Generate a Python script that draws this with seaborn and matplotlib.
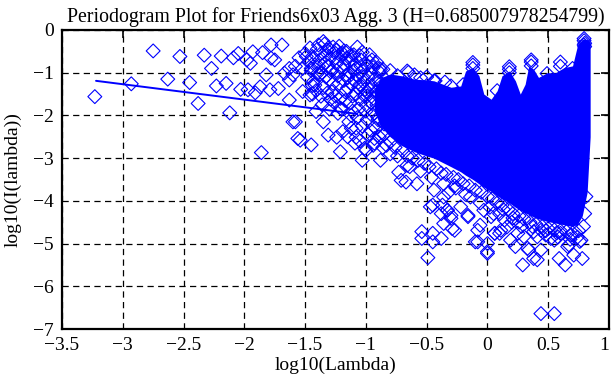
import matplotlib
matplotlib.use("Agg")
import matplotlib.pyplot as plt
import seaborn as sns
import pandas as pd

# ---- data ----
# sparse low-frequency points
low_x = [-3.23, -2.75, -2.93, -2.63, -2.53, -2.45, -2.38, -2.33, -2.27, -2.23, -2.19, -2.15,
         -2.12, -2.09, -2.05, -2.03, -1.98, -1.95, -1.97, -1.91, -1.93, -1.86, -1.85, -1.82,
         -1.78, -1.75, -1.69, -1.79, -1.72, -1.87, -1.63, -1.60, -1.56, -1.78, -1.67, -1.63,
         -1.63, -1.58, -1.54, -1.45, -1.52, -1.46, -1.42, -1.49, -1.45, -1.35, -1.38, -1.32,
         -1.41, -1.35, -1.31, -1.24, -1.21, -1.19, -1.21, -1.12, -1.09, -1.16, -1.08, -0.99,
         -0.95, -0.89, -1.01, -0.93]
low_y = [-1.56, -0.49, -1.26, -1.15, -0.62, -1.23, -1.72, -0.59, -0.90, -1.31, -0.61, -1.25,
         -1.94, -0.65, -0.55, -1.39, -0.70, -0.78, -1.40, -1.47, -0.51, -2.87, -0.53, -1.05,
         -0.35, -0.70, -0.35, -1.40, -1.37, -1.33, -1.64, -2.15, -2.54, -0.66, -1.01, -0.90,
         -1.17, -2.15, -2.58, -2.69, -1.44, -1.52, -1.29, -0.62, -0.90, -0.27, -1.05, -0.47,
         -1.91, -2.15, -2.46, -0.47, -1.83, -2.38, -2.85, -2.30, -2.65, -0.66, -0.90, -1.44,
         -0.70, -0.90, -2.77, -2.54]

# dense band of overlapping diamonds (x between -1.6 and -0.85)
mid_x = [-1.50, -1.47, -1.45, -1.43, -1.40, -1.38, -1.36, -1.35, -1.33, -1.31, -1.30, -1.28,
         -1.27, -1.25, -1.24, -1.22, -1.21, -1.19, -1.18, -1.16, -1.15, -1.13, -1.12, -1.10,
         -1.09, -1.08, -1.06, -1.05, -1.04, -1.02, -1.01, -1.00, -0.99, -0.97, -0.96, -0.95,
         -0.94, -0.93, -0.92, -0.98, -1.03, -1.07, -1.11, -1.14, -1.17, -1.20, -1.23, -1.26,
         -1.29, -1.32, -1.37, -1.41, -1.44, -1.48, -1.52, -1.55, -1.58, -1.60, -1.34, -1.18,
         -1.13, -1.07, -1.03, -0.97, -0.91, -0.88, -0.90, -0.87, -1.24, -1.08, -1.00, -0.94,
         -1.39, -1.29, -1.15, -1.05, -0.99, -0.91, -0.86, -0.89,
         -1.46, -1.44, -1.42, -1.40, -1.39, -1.37, -1.34, -1.33, -1.31, -1.30, -1.28, -1.27,
         -1.26, -1.24, -1.23, -1.22, -1.20, -1.19, -1.18, -1.17, -1.16, -1.14, -1.13, -1.12,
         -1.11, -1.10, -1.09, -1.07, -1.06, -1.05, -1.04, -1.03, -1.02, -1.01, -1.00, -0.99,
         -0.98, -0.97, -0.96, -0.95, -0.94, -0.93, -0.92, -0.91, -0.90, -0.89, -0.88, -0.87,
         -0.86, -0.85, -1.25, -1.30, -1.36, -1.44, -1.12, -1.08, -1.15, -1.05, -0.96, -0.93,
         -0.89, -0.86]
mid_y = [-0.55, -0.75, -0.95, -1.20, -0.45, -0.70, -1.00, -1.35, -0.60, -0.85, -1.15, -1.45,
         -0.40, -0.65, -0.95, -1.25, -1.60, -0.55, -0.80, -1.05, -1.35, -1.70, -0.70, -0.95,
         -1.20, -1.50, -1.85, -0.60, -0.85, -1.10, -1.40, -1.75, -2.10, -0.75, -1.00, -1.30,
         -1.60, -1.95, -2.30, -2.45, -2.25, -2.05, -1.90, -2.15, -1.65, -1.85, -1.95, -1.70,
         -1.62, -1.48, -1.55, -1.42, -1.30, -1.10, -0.90, -0.65, -0.85, -1.05, -0.33, -0.49,
         -0.61, -0.40, -0.52, -0.58, -0.76, -0.92, -2.05, -2.40, -2.51, -2.51, -2.82, -2.70,
         -0.85, -0.98, -1.12, -1.28, -1.55, -1.45, -1.75, -1.20,
         -0.42, -0.62, -0.82, -1.02, -0.35, -0.55, -0.78, -1.10, -0.42, -0.68, -0.95, -1.25,
         -0.52, -0.78, -1.08, -0.38, -0.62, -0.92, -1.18, -1.45, -0.50, -0.75, -1.00, -1.25,
         -1.55, -0.58, -0.82, -1.08, -1.35, -1.62, -0.70, -0.95, -1.22, -1.55, -1.90, -0.82,
         -1.10, -1.40, -1.70, -2.00, -0.88, -1.15, -1.45, -1.75, -2.10, -0.98, -1.25, -1.55,
         -1.85, -2.20, -1.55, -1.85, -1.75, -1.50, -2.00, -2.30, -2.50, -2.60, -2.35, -2.65,
         -2.50, -2.75]

# outlined diamonds around the dense core (upper and lower edges)
edge_x = [-0.66, -0.44, -0.30, -0.12, -0.12, 0.18, 0.08, 0.36, 0.36, 0.60, 0.80, 0.80,
          -0.74, -0.65, -0.43, -0.86, 0.18, 0.60, 0.49, 0.70, -0.55, -0.20,
          -1.03, -0.88, -0.80, -0.73, -0.67, -0.58, -0.45, -0.71, -0.66, -0.47, -0.54, -0.54,
          -0.49, -0.38, -0.38, -0.30, -0.27, -0.33, -0.44, -0.36, -0.22, -0.16, -0.08, -0.08,
          0.00, -0.03, 0.06, 0.14, -0.14, -0.45, -0.45, -0.36, -0.29, -0.30, -0.37, -0.33,
          -0.16, -0.10, -0.06, 0.00, 0.00, 0.06, 0.03, 0.23, 0.29, 0.33, 0.38, 0.44, 0.44,
          0.55, 0.59, 0.64, 0.71, 0.78, 0.66, 0.77, 0.55, 0.41, 0.19, 0.11, 0.25, 0.10,
          0.34, 0.41, 0.52, 0.67, 0.30, 0.16, 0.44, 0.60, -0.27, -0.32, 0.21, 0.48, 0.74,
          0.05, 0.26, 0.57, 0.69, 0.13, 0.37,
          -0.12, 0.18, 0.36, 0.795, 0.795, 0.795, -0.80, -0.60, -0.50, -0.35,
          -0.85, -0.80, -0.76, -0.70, -0.66, -0.62, -0.57, -0.52, -0.48, -0.42, -0.38, -0.34,
          -0.28, -0.24, -0.20, -0.15, -0.10, -0.05, 0.00, 0.04, 0.08, 0.12, 0.17, 0.21,
          0.26, 0.30, 0.35, 0.40, 0.45, 0.50, 0.55, 0.60, 0.65, 0.70, 0.75, 0.79, 0.80, 0.81,
          -0.83, -0.74, -0.64, -0.55, -0.46, -0.36, -0.26, -0.18, -0.06, 0.02, 0.10, 0.20,
          0.28, 0.38, 0.48, 0.58, 0.68, 0.76]
edge_y = [-0.96, -1.19, -1.31, -0.82, -0.90, -0.92, -1.42, -0.75, -0.84, -0.75, -0.31, -0.39,
          -1.07, -0.99, -1.19, -0.92, -1.00, -0.85, -1.02, -0.90, -1.12, -1.28,
          -3.05, -3.05, -2.90, -3.33, -3.56, -3.60, -4.10, -3.52, -3.17, -4.14, -4.72, -4.88,
          -5.33, -4.88, -4.30, -4.41, -4.69, -4.22, -3.75, -3.91, -4.14, -4.37, -4.69, -4.96,
          -5.23, -4.22, -4.76, -4.45, -3.91, -4.76, -4.96, -4.53, -4.65, -4.34, -4.10, -4.22,
          -4.34, -4.96, -4.57, -5.19, -5.00, -4.76, -4.37, -5.07, -5.50, -5.11, -5.35, -5.15,
          -6.64, -6.64, -5.35, -5.50, -5.27, -5.35, -5.07, -4.92, -4.92, -4.84, -4.92, -4.69,
          -4.76, -4.76, -5.15, -5.38, -4.88, -5.03, -4.84, -4.61, -4.69, -4.76, -3.65, -3.80,
          -4.40, -4.70, -4.85, -4.30, -4.50, -4.75, -4.80, -4.20, -4.60,
          -0.76, -0.86, -0.70, -0.25, -0.20, -0.35, -0.95, -1.05, -1.10, -1.22,
          -2.45, -2.62, -2.75, -2.82, -2.95, -3.00, -3.05, -3.12, -3.20, -3.25, -3.35, -3.38,
          -3.45, -3.50, -3.60, -3.65, -3.75, -3.80, -3.90, -3.95, -4.05, -4.10, -4.20, -4.30,
          -4.35, -4.42, -4.50, -4.55, -4.60, -4.65, -4.68, -4.70, -4.72, -4.75, -4.70, -4.60,
          -4.30, -3.90,
          -2.70, -2.95, -3.20, -3.30, -3.45, -3.60, -3.70, -3.85, -4.05, -4.15, -4.30, -4.50,
          -4.60, -4.72, -4.80, -4.85, -4.90, -4.95]

# envelope of the solid (fully overlapped) core
core_x = [-0.93, -0.88, -0.80, -0.71, -0.60, -0.50, -0.44, -0.30, -0.22, -0.18, -0.12, -0.07,
          -0.03, 0.03, 0.08, 0.12, 0.18, 0.23, 0.27, 0.31, 0.34, 0.38, 0.42, 0.49, 0.56,
          0.63, 0.70, 0.74, 0.78, 0.82, 0.845]
core_hi = [-1.40, -1.12, -1.03, -1.07, -1.15, -1.17, -1.19, -1.34, -1.31, -0.96, -0.88, -1.07,
           -1.50, -1.62, -1.42, -1.07, -0.96, -1.19, -1.50, -1.27, -0.84, -0.92, -1.11, -1.00,
           -1.00, -0.88, -0.84, -0.37, -0.22, -0.22, -0.30]
core_lo = [-1.90, -2.25, -2.50, -2.70, -2.85, -2.95, -3.00, -3.20, -3.32, -3.40, -3.50, -3.60,
           -3.68, -3.78, -3.88, -3.95, -4.05, -4.15, -4.22, -4.28, -4.32, -4.38, -4.42, -4.48,
           -4.52, -4.56, -4.60, -4.55, -4.35, -3.80, -2.50]

# least-squares line endpoints
fit_x = [-3.22, -1.07]
fit_y = [-1.19, -1.965]

title = "Periodogram Plot for Friends6x03 Agg. 3 (H=0.685007978254799)"
x_ticks = [-3.5, -3, -2.5, -2, -1.5, -1, -0.5, 0, 0.5, 1]
x_ticklabels = ["\u22123.5", "\u22123", "\u22122.5", "\u22122", "\u22121.5", "\u22121", "\u22120.5", "0", "0.5", "1"]
y_ticks = [0, -1, -2, -3, -4, -5, -6, -7]
y_ticklabels = ["0", "\u22121", "\u22122", "\u22123", "\u22124", "\u22125", "\u22126", "\u22127"]

# ---- drawing ----
sns.set_theme(style="white")
plt.rcParams["font.family"] = ["Liberation Serif", "DejaVu Serif"]
BLUE = "#0000ff"

fig = plt.figure(figsize=(6.11, 3.85), dpi=100)
ax = fig.add_axes([62 / 611, 1 - 329 / 385, 547 / 611, 299 / 385])

ax.fill_between(core_x, core_lo, core_hi, color=BLUE, linewidth=0, zorder=2)

pts = pd.DataFrame({
    "x": low_x + mid_x + edge_x,
    "y": low_y + mid_y + edge_y,
})
sns.scatterplot(data=pts, x="x", y="y", marker="D", s=50,
                facecolor="none", edgecolor=BLUE, linewidth=0.8,
                ax=ax, zorder=3, legend=False)

sns.lineplot(x=fit_x, y=fit_y, color=BLUE, linewidth=1.4, ax=ax, zorder=4)

ax.set_xlim(-3.5, 1)
ax.set_ylim(-7, 0)
ax.set_xticks(x_ticks)
ax.set_xticklabels(x_ticklabels)
ax.set_yticks(y_ticks)
ax.set_yticklabels(y_ticklabels)
ax.get_xticklabels()[-1].set_horizontalalignment("right")
ax.grid(True, color="black", linestyle=(0, (5, 3.5)), linewidth=0.9, zorder=1)
ax.set_axisbelow(True)
for sp in ax.spines.values():
    sp.set_visible(True)
    sp.set_color("black")
    sp.set_linewidth(1.6)
ax.tick_params(axis="both", direction="in", length=6, width=1.2, colors="black",
               top=True, right=True, labelsize=14, pad=6)
ax.set_xlabel("log10(Lambda)", fontsize=14, labelpad=2, color="black")
ax.set_ylabel("log10(I(lambda))", fontsize=14, labelpad=8, color="black")
ax.set_title(title, fontsize=14.3, pad=6, color="black")

fig.savefig("out.png", dpi=100)
